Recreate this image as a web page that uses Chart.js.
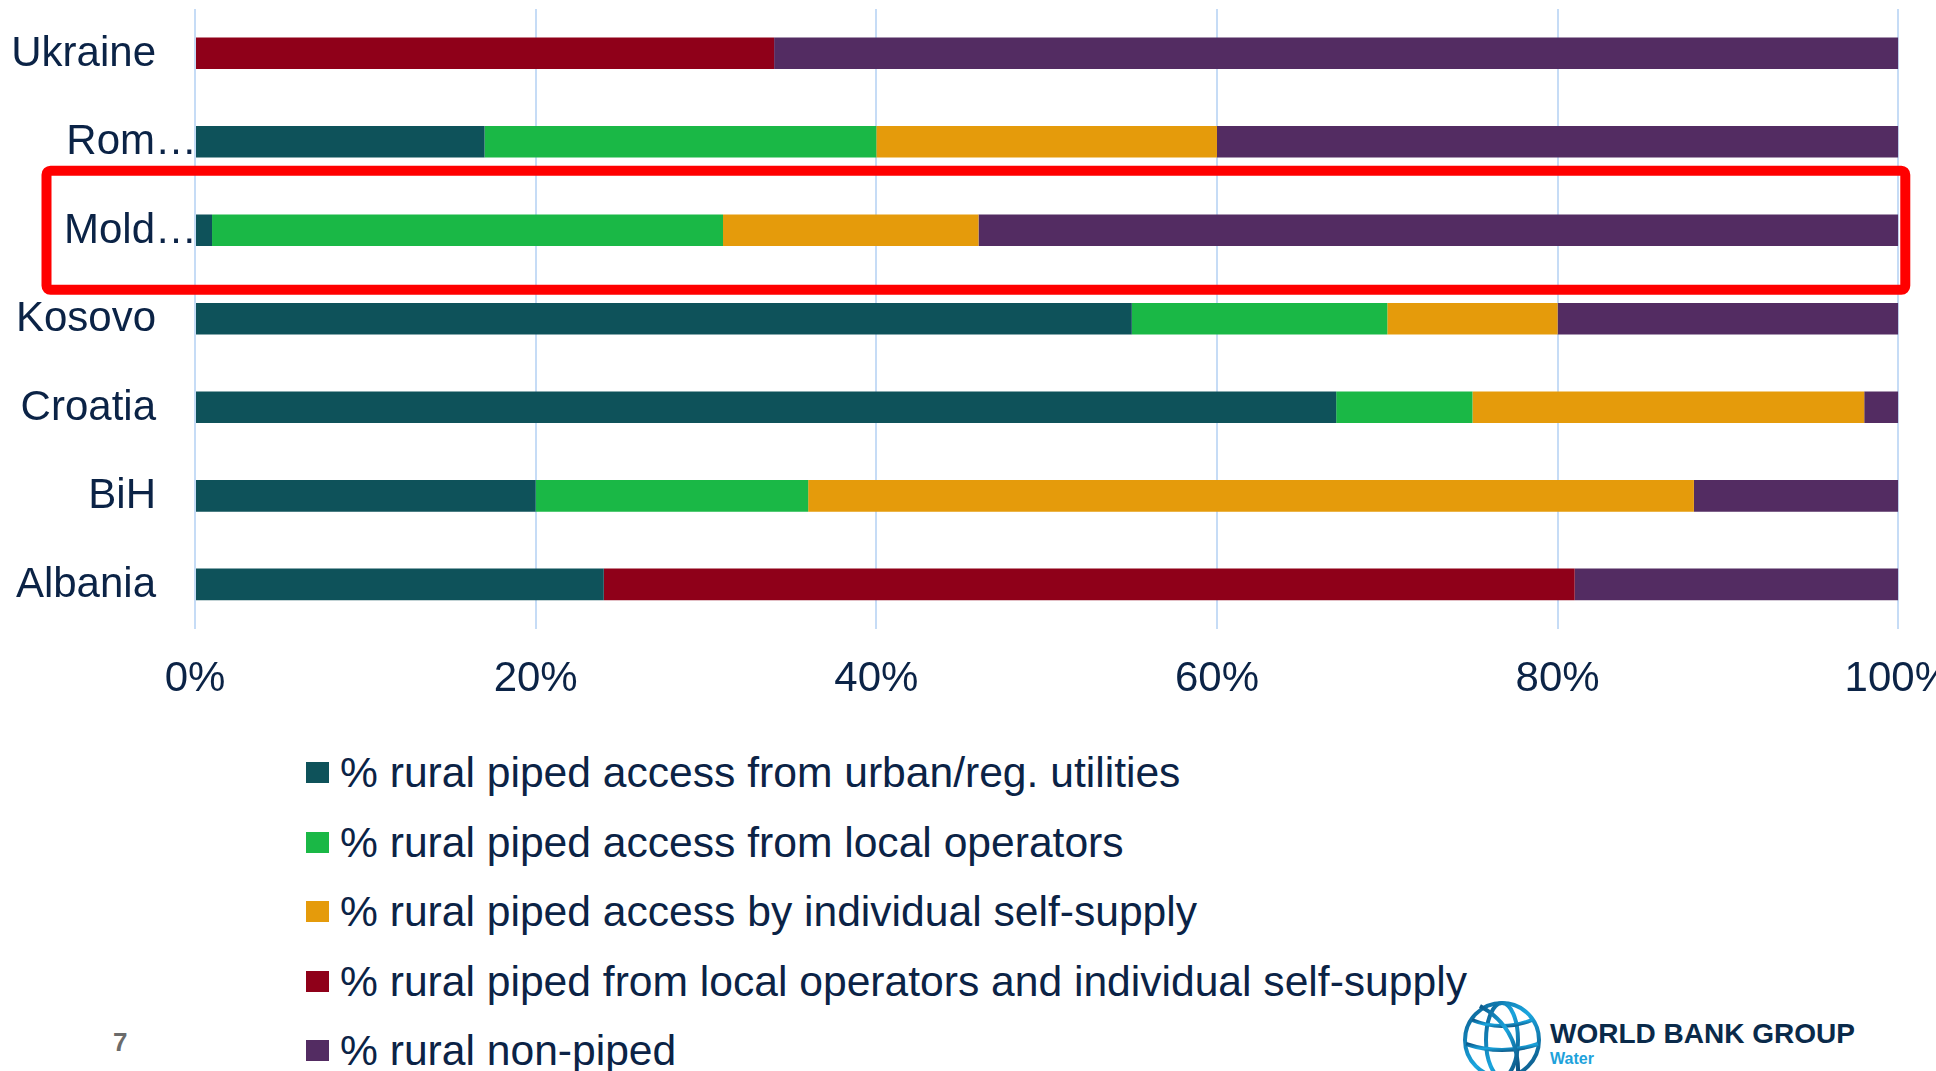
<!DOCTYPE html>
<html>
<head>
<meta charset="utf-8">
<script src="https://cdn.jsdelivr.net/npm/chart.js@4/dist/chart.umd.min.js"></script>
<style>
	html, body {
		margin: 0;
		padding: 0;
		background: #fff;
	}
	body {
		width: 1936px;
		height: 1071px;
		overflow: hidden;
		position: relative;
		font-family: "Liberation Sans", Arial, sans-serif;
		color: #0b2346;
	}
	#chartBox {
		position: absolute;
		left: 0;
		top: 0;
		width: 1978px;
		height: 731px;
	}
	#legend {
		position: absolute;
		left: 306px;
		top: 738px;
		margin: 0;
		padding: 0;
		list-style: none;
	}
	#legend li {
		height: 69.5px;
		line-height: 69.5px;
		font-size: 42.6px;
		white-space: nowrap;
		display: flex;
		align-items: center;
	}
	#legend .swatch {
		display: inline-block;
		width: 23px;
		height: 21px;
		margin-right: 11px;
	}
	#slideNo {
		position: absolute;
		left: 113px;
		top: 1027px;
		font-size: 26px;
		font-weight: bold;
		color: #6b6b6b;
	}
	#logo {
		position: absolute;
		left: 1460px;
		top: 998px;
	}
	#logo .name {
		position: absolute;
		left: 90px;
		top: 20px;
		font-size: 28px;
		font-weight: bold;
		color: #0a2a4a;
		white-space: nowrap;
	}
	#logo .unit {
		position: absolute;
		left: 90px;
		top: 52px;
		font-size: 16px;
		font-weight: bold;
		color: #1ea2db;
	}
</style>
</head>
<body>
<div id="chartBox"><canvas id="accessChart"></canvas></div>
<ul id="legend"></ul>
<div id="slideNo">7</div>
<div id="logo">
	<svg width="90" height="80" viewBox="0 0 90 80">
		<defs>
			<linearGradient id="globeGrad" x1="0" y1="0" x2="1" y2="1">
				<stop offset="0" stop-color="#0a5a8c"/>
				<stop offset="0.5" stop-color="#1aa6df"/>
				<stop offset="1" stop-color="#0a4a78"/>
			</linearGradient>
		</defs>
		<g fill="none" stroke="url(#globeGrad)" stroke-width="4">
			<circle cx="42" cy="42" r="37"/>
			<ellipse cx="42" cy="42" rx="16" ry="37"/>
			<path d="M12 22 Q42 34 72 22"/>
			<path d="M6 46 Q42 58 78 46"/>
			<path d="M20 8 Q60 30 58 78"/>
		</g>
	</svg>
	<div class="name">WORLD BANK GROUP</div>
	<div class="unit">Water</div>
</div>

<script>
	const countries = ["Ukraine", "Rom…", "Mold…", "Kosovo", "Croatia", "BiH", "Albania"];

	// shares of rural population, percent
	const urbanUtilities = [0, 17, 1, 55, 67, 20, 24];
	const localOperators = [0, 23, 30, 15, 8, 16, 0];
	const selfSupply = [0, 20, 15, 10, 23, 52, 0];
	const localAndSelf = [34, 0, 0, 0, 0, 0, 57];
	const nonPiped = [66, 40, 54, 20, 2, 12, 19];

	const seriesNames = [
		"% rural piped access from urban/reg. utilities",
		"% rural piped access from local operators",
		"% rural piped access by individual self-supply",
		"% rural piped from local operators and individual self-supply",
		"% rural non-piped",
	];
	const seriesColors = ["#0e525a", "#1ab846", "#e59b0b", "#8f0019", "#532c62"];

	const xTicks = [0, 20, 40, 60, 80, 100];

	const textColor = "#0b2346";
	const gridColor = "#c6dcf6";

	Chart.defaults.font.family = '"Liberation Sans", Arial, sans-serif';
	Chart.defaults.color = textColor;

	// country names, drawn by hand so the shortened ones can sit against the axis
	const countryLabels = {
		id: "countryLabels",
		beforeDatasetsDraw(chart) {
			const { ctx, chartArea, scales } = chart;
			ctx.save();
			ctx.font = '42px "Liberation Sans", Arial, sans-serif';
			ctx.fillStyle = textColor;
			ctx.textAlign = "right";
			ctx.textBaseline = "middle";
			countries.forEach((name, i) => {
				const x = name.endsWith("…") ? chartArea.left + 2 : chartArea.left - 39;
				ctx.fillText(name, x, scales.y.getPixelForValue(i) + 1);
			});
			ctx.restore();
		},
	};

	// red frame round the Moldova row
	const highlightRow = {
		id: "highlightRow",
		afterDraw(chart) {
			const { ctx, chartArea, scales } = chart;
			const band = scales.y.getPixelForValue(1) - scales.y.getPixelForValue(0);
			const cy = scales.y.getPixelForValue(2);
			const top = cy - band * 0.673;
			const bottom = cy + band * 0.673;
			const left = 46.5;
			const right = chartArea.right + 7;
			ctx.save();
			ctx.strokeStyle = "#ff0000";
			ctx.lineWidth = 10;
			ctx.beginPath();
			ctx.roundRect(left, top, right - left, bottom - top, 4);
			ctx.stroke();
			ctx.restore();
		},
	};

	const seriesData = [urbanUtilities, localOperators, selfSupply, localAndSelf, nonPiped];

	const chart = new Chart(document.getElementById("accessChart"), {
		type: "bar",
		data: {
			labels: countries,
			datasets: seriesData.map((values, i) => ({
				label: seriesNames[i],
				data: values,
				backgroundColor: seriesColors[i],
				borderWidth: 0,
				barPercentage: 0.357,
				categoryPercentage: 1,
			})),
		},
		options: {
			indexAxis: "y",
			responsive: true,
			maintainAspectRatio: false,
			animation: false,
			layout: {
				padding: { left: 195, top: 9 },
			},
			plugins: {
				legend: { display: false },
				tooltip: { enabled: false },
			},
			scales: {
				x: {
					stacked: true,
					min: 0,
					max: 100,
					afterBuildTicks: (scale) => {
						scale.ticks = xTicks.map((v) => ({ value: v }));
					},
					grid: {
						color: gridColor,
						lineWidth: 2,
						drawTicks: false,
					},
					border: { display: false },
					ticks: {
						padding: 26,
						font: { size: 42 },
						color: textColor,
						callback: (v) => v + "%",
					},
				},
				y: {
					stacked: true,
					display: false,
				},
			},
		},
		plugins: [countryLabels, highlightRow],
	});

	// legend as a plain list, one series per line
	const legendList = document.getElementById("legend");
	chart.data.datasets.forEach((ds) => {
		const item = document.createElement("li");
		const swatch = document.createElement("span");
		swatch.className = "swatch";
		swatch.style.background = ds.backgroundColor;
		item.appendChild(swatch);
		item.appendChild(document.createTextNode(ds.label));
		legendList.appendChild(item);
	});
</script>
</body>
</html>
